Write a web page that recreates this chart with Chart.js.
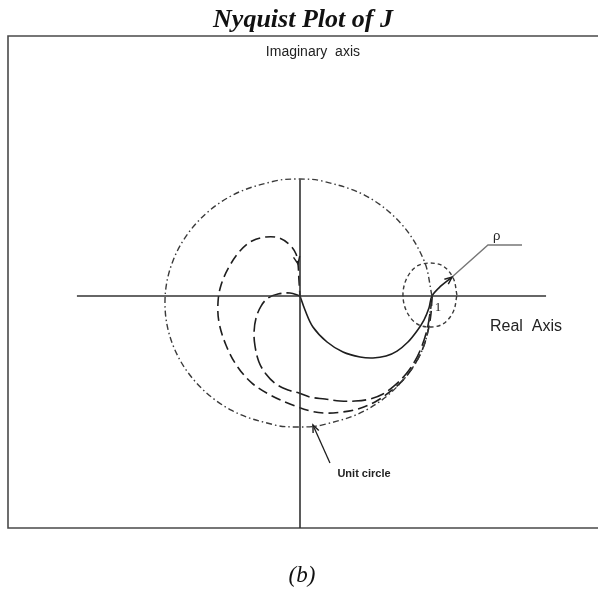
<!DOCTYPE html>
<html><head><meta charset="utf-8">
<script src="https://cdn.jsdelivr.net/npm/chart.js@4/dist/chart.umd.min.js"></script>
<style>html,body{margin:0;padding:0;background:#fff;}canvas{display:block;}</style>
</head><body>
<canvas id="c" width="598" height="591"></canvas>
<script>
// Nyquist plot of J in the complex plane: [real, imaginary]
const solidPath = [[0,0],[0.038,-0.113],[0.098,-0.25],[0.205,-0.371],[0.326,-0.452],[0.455,-0.492],[0.553,-0.5],[0.652,-0.484],[0.735,-0.444],[0.818,-0.371],[0.886,-0.282],[0.939,-0.194],[0.977,-0.097],[1.0,0],[1.068,0.081],[1.152,0.153]];
const outerLoop = [[1.0,0],[0.992,-0.145],[0.970,-0.282],[0.932,-0.419],[0.871,-0.548],[0.788,-0.669],[0.689,-0.766],[0.568,-0.855],[0.439,-0.911],[0.326,-0.935],[0.189,-0.944],[0.076,-0.927],[-0.076,-0.871],[-0.227,-0.798],[-0.364,-0.702],[-0.477,-0.565],[-0.561,-0.395],[-0.614,-0.210],[-0.621,-0.048],[-0.598,0.089],[-0.538,0.234],[-0.455,0.363],[-0.364,0.444],[-0.258,0.476],[-0.159,0.468],[-0.076,0.411],[-0.030,0.339],[-0.015,0.258],[-0.008,0.129],[0,0]];
const innerLoop = [[0,0],[-0.076,0.024],[-0.167,0.016],[-0.242,-0.016],[-0.295,-0.081],[-0.333,-0.177],[-0.348,-0.290],[-0.341,-0.403],[-0.311,-0.532],[-0.258,-0.629],[-0.182,-0.710],[-0.091,-0.758],[-0.008,-0.782],[0.076,-0.815],[0.189,-0.831],[0.303,-0.847],[0.417,-0.847],[0.530,-0.831],[0.629,-0.790],[0.720,-0.718],[0.803,-0.629],[0.871,-0.524],[0.924,-0.403],[0.962,-0.274],[0.985,-0.137],[1.0,0]];
const unitCircle = [[1.0,0],[0.94,0.285],[0.764,0.586],[0.495,0.81],[0.164,0.928],[-0.011,0.943],[-0.187,0.928],[-0.517,0.81],[-0.786,0.586],[-0.962,0.285],[-1.023,-0.056],[-0.962,-0.398],[-0.786,-0.699],[-0.517,-0.923],[-0.187,-1.041],[-0.011,-1.056],[0.164,-1.041],[0.495,-0.923],[0.764,-0.699],[0.94,-0.398],[1.0,0]];
const rhoCircle = [[1.189,0.008],[1.162,0.141],[1.087,0.239],[0.985,0.266],[0.883,0.239],[0.808,0.141],[0.780,0.008],[0.808,-0.125],[0.883,-0.223],[0.985,-0.250],[1.087,-0.223],[1.162,-0.125],[1.189,0.008]];
const realAxis = [[-1.69,0],[1.864,0]];
const imagAxis = [[0,0.94],[0,-1.871]];
const rhoLeader = [[1.152,0.153],[1.424,0.411],[1.682,0.411]];
const unitCirclePointer = [[0.227,-1.347],[0.098,-1.040]];
// arrowheads: [from, to]
const arrowHeads = [
  [[1.068,0.081],[1.152,0.153]],
  [[-0.030,0.339],[-0.015,0.258]],
  [[0.227,-1.347],[0.098,-1.040]]
];
const labelText = ['Imaginary  axis','Real  Axis','\u03c1','1','Unit circle'];
const labelPos = [[0.098,1.968],[1.712,-0.25],[1.49,0.478],[1.045,-0.097],[0.485,-1.435]];
const labelFont = ['14px "Liberation Sans"','16px "Liberation Sans"','13px "Liberation Sans"','13px "Liberation Serif"','bold 11px "Liberation Sans"'];

const pts = a => a.map(p => ({x:p[0], y:p[1]}));
const ink = '#1e1e1e';

function line(data, opt) {
  return Object.assign({data: pts(data), showLine: true, pointRadius: 0, borderColor: ink, borderWidth: 1.6, tension: 0.35, fill: false}, opt);
}

const decor = {
  id: 'decor',
  beforeDatasetsDraw(chart) {
    const {ctx, chartArea: a} = chart;
    ctx.save();
    ctx.strokeStyle = '#4a4a4a';
    ctx.lineWidth = 1.6;
    ctx.beginPath();
    ctx.moveTo(chart.width + 2, a.top); ctx.lineTo(a.left, a.top);
    ctx.lineTo(a.left, a.bottom); ctx.lineTo(chart.width + 2, a.bottom);
    ctx.stroke();
    ctx.restore();
  },
  afterDatasetsDraw(chart) {
    const {ctx, scales: {x, y}} = chart;
    ctx.save();
    ctx.strokeStyle = ink; ctx.lineWidth = 1.4;
    arrowHeads.forEach(([f, t]) => {
      const x0 = x.getPixelForValue(f[0]), y0 = y.getPixelForValue(f[1]);
      const x1 = x.getPixelForValue(t[0]), y1 = y.getPixelForValue(t[1]);
      const ang = Math.atan2(y1 - y0, x1 - x0), L = 8;
      ctx.beginPath();
      ctx.moveTo(x1 - L * Math.cos(ang - 0.4), y1 - L * Math.sin(ang - 0.4));
      ctx.lineTo(x1, y1);
      ctx.lineTo(x1 - L * Math.cos(ang + 0.4), y1 - L * Math.sin(ang + 0.4));
      ctx.stroke();
    });
    ctx.fillStyle = '#222';
    ctx.textAlign = 'center'; ctx.textBaseline = 'middle';
    labelText.forEach((t, i) => {
      ctx.font = labelFont[i];
      ctx.fillText(t, x.getPixelForValue(labelPos[i][0]), y.getPixelForValue(labelPos[i][1]));
    });
    ctx.fillStyle = '#111';
    ctx.font = 'bold italic 26px "Liberation Serif"';
    ctx.textBaseline = 'alphabetic';
    ctx.fillText('Nyquist Plot of J', 303, 27);
    ctx.font = 'italic 23px "Liberation Serif"';
    ctx.fillText('(b)', 302, 582);
    ctx.restore();
  }
};

new Chart(document.getElementById('c'), {
  type: 'scatter',
  data: {datasets: [
    line(realAxis, {borderColor: '#333', tension: 0}),
    line(imagAxis, {borderColor: '#333', tension: 0}),
    line(unitCircle, {borderColor: '#3a3a3a', borderWidth: 1.4, borderDash: [6, 3, 1.5, 3]}),
    line(rhoCircle, {borderColor: '#3a3a3a', borderWidth: 1.4, borderDash: [4, 3]}),
    line(outerLoop, {borderDash: [10, 5]}),
    line(innerLoop, {borderDash: [14, 5]}),
    line(solidPath, {}),
    line(rhoLeader, {borderColor: '#777', borderWidth: 1.4, tension: 0}),
    line(unitCirclePointer, {borderWidth: 1.3, tension: 0})
  ]},
  options: {
    responsive: false, animation: false, devicePixelRatio: 1,
    layout: {padding: {left: 8, right: 0, top: 36, bottom: 63}},
    plugins: {legend: {display: false}, tooltip: {enabled: false}, title: {display: false}},
    scales: {
      x: {type: 'linear', min: -2.2121, max: 2.2576, display: false},
      y: {type: 'linear', min: -1.871, max: 2.0968, display: false}
    }
  },
  plugins: [decor]
});
</script>
</body></html>
